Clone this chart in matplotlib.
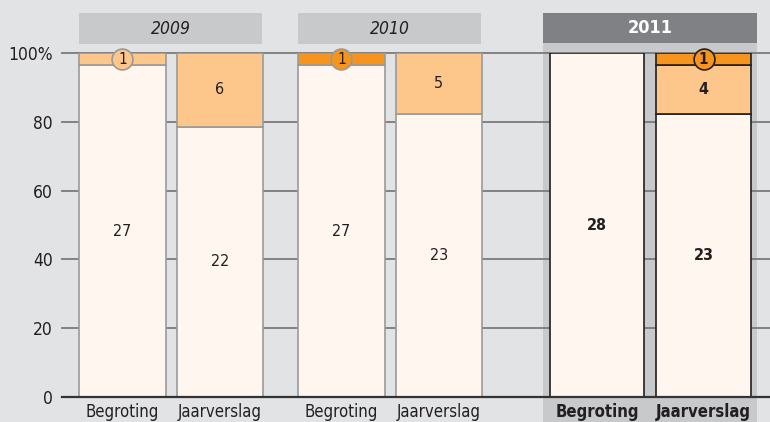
import matplotlib.pyplot as plt
from matplotlib.patches import Rectangle

plt.rcParams['font.family'] = ['Liberation Sans Narrow', 'DejaVu Sans']
plt.rcParams['font.stretch'] = 'condensed'

# data
jaren = ['2009', '2010', '2011']
soorten = ['Begroting', 'Jaarverslag', 'Begroting', 'Jaarverslag', 'Begroting', 'Jaarverslag']
basis = [27, 22, 27, 23, 28, 23]
licht = [1, 6, 0, 5, 0, 4]
donker = [0, 0, 1, 0, 0, 1]

# layout
xpos = [0, 1, 2.246, 3.246, 4.867, 5.959]
breedte = [0.892, 0.892, 0.892, 0.892, 0.97, 0.97]
groep = [0, 0, 1, 1, 2, 2]

achtergrond = '#e2e3e5'
creme = '#fff6f0'
lichtoranje = '#fdc68b'
oranje = '#f7941d'

fig = plt.figure(figsize=(7.7, 4.22), dpi=100, facecolor=achtergrond)
ax = fig.add_axes([62/770, 25/422, 708/770, 344/422])
ax.set_facecolor('none')
ax.set_xlim(-0.6205, 6.641)
ax.set_ylim(0, 100)
for s in ax.spines.values():
    s.set_visible(False)

# grijs vlak achter 2011
ax.add_patch(Rectangle((4.313, -8), 6.508 - 4.313, 111, facecolor='#c8c9cb',
                       edgecolor='none', zorder=0.5, clip_on=False))

# koppen
for g, jaar in enumerate(jaren):
    idx = [i for i in range(len(xpos)) if groep[i] == g]
    links = xpos[idx[0]] - breedte[idx[0]] / 2
    rechts = xpos[idx[-1]] + breedte[idx[-1]] / 2
    if g == 2:
        links, rechts = 4.313, 6.508
        ax.add_patch(Rectangle((links, 102.9), rechts - links, 8.7, facecolor='#808184',
                               edgecolor='none', clip_on=False))
        ax.text((links + rechts) / 2, 107.2, jaar, ha='center', va='center', fontsize=13,
                color='white', fontweight='bold')
    else:
        ax.add_patch(Rectangle((links, 102.6), rechts - 0.02 - links, 9, facecolor='#c8c9cb',
                               edgecolor='none', clip_on=False))
        ax.text((links + rechts) / 2, 107.1, jaar, ha='center', va='center', fontsize=12.5,
                color='#231f20', style='italic')

# rasterlijnen
for y in [20, 40, 60, 80, 100]:
    ax.axhline(y, color='#7a7a7a', lw=1.3, zorder=1, clip_on=False)
ax.axhline(0, color='#333333', lw=1.6, zorder=3, clip_on=False)

for i in range(len(xpos)):
    totaal = basis[i] + licht[i] + donker[i]
    b = basis[i] / totaal * 100
    l = licht[i] / totaal * 100
    d = donker[i] / totaal * 100
    vet = groep[i] == 2
    rand = '#231f20' if vet else '#9a9a9a'
    lw = 1.2
    gewicht = 'bold' if vet else 'normal'
    ax.bar(xpos[i], b, breedte[i], color=creme, edgecolor=rand, lw=lw, zorder=2)
    ax.text(xpos[i], b / 2, str(basis[i]), ha='center', va='center', fontsize=11.5,
            color='#231f20', fontweight=gewicht, zorder=5)
    if licht[i]:
        ax.bar(xpos[i], l, breedte[i], bottom=b, color=lichtoranje, edgecolor=rand, lw=lw, zorder=2)
        if licht[i] > 1:
            ax.text(xpos[i], b + l / 2, str(licht[i]), ha='center', va='center', fontsize=11.5,
                    color='#231f20', fontweight=gewicht, zorder=5)
        else:
            ax.plot(xpos[i], b + l / 2, 'o', ms=15, mfc=lichtoranje, mec=rand, mew=1.2,
                    zorder=4, clip_on=False)
            ax.text(xpos[i], b + l / 2, '1', ha='center', va='center', fontsize=11,
                    color='#231f20', fontweight=gewicht, zorder=5)
    if donker[i]:
        ax.bar(xpos[i], d, breedte[i], bottom=b + l, color=oranje, edgecolor=rand, lw=lw, zorder=2)
        ax.plot(xpos[i], b + l + d / 2, 'o', ms=15, mfc=oranje, mec=rand, mew=1.2,
                zorder=4, clip_on=False)
        ax.text(xpos[i], b + l + d / 2, '1', ha='center', va='center', fontsize=11,
                color='#231f20', fontweight=gewicht, zorder=5)

ax.set_xticks(xpos)
ax.set_xticklabels(soorten, fontsize=12, color='#231f20')
for i, t in enumerate(ax.get_xticklabels()):
    if groep[i] == 2:
        t.set_fontweight('bold')
ax.tick_params(axis='x', length=0, pad=4.5)

ax.set_yticks([0, 20, 40, 60, 80, 100])
ax.set_yticklabels(['0', '20', '40', '60', '80', '100%'], fontsize=12.5, color='#231f20')
ax.tick_params(axis='y', length=0, pad=6.5)

fig.savefig('out.png', dpi=100, facecolor=achtergrond)
